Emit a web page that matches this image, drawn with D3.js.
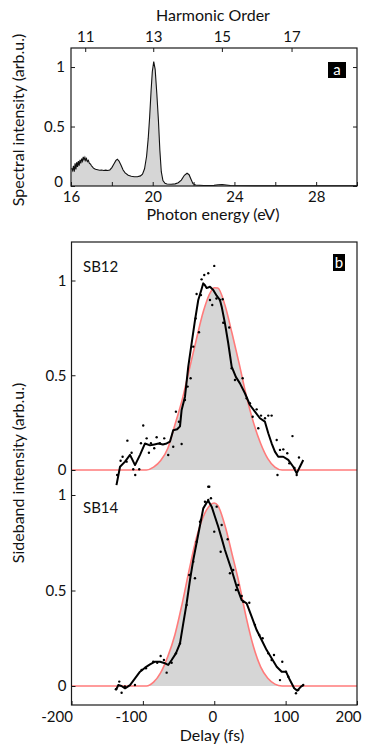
<!DOCTYPE html>
<html>
<head>
<meta charset="utf-8">
<script src="https://cdn.jsdelivr.net/npm/d3@7"></script>
<style>
  body { margin: 0; background: #fff; }
  svg { display: block; }
  text { font-family: Lato, "Open Sans", sans-serif; fill: #111; }
</style>
</head>
<body>
<svg id="fig" width="365" height="748"></svg>
<script>
// ---- Panel a: photon spectrum ----
const photonEnergy = [16.03,16.08,16.12,16.16,16.2,16.24,16.28,16.32,16.36,16.4,16.44,16.48,16.52,16.56,16.6,16.64,16.68,16.72,16.76,16.8,16.85,16.9,16.95,17.0,17.05,17.1,17.15,17.2,17.3,17.4,17.5,17.6,17.7,17.8,17.9,18.0,18.1,18.2,18.27,18.35,18.45,18.55,18.65,18.8,18.95,19.1,19.25,19.4,19.5,19.6,19.7,19.78,19.85,19.92,19.98,20.05,20.12,20.2,20.28,20.35,20.42,20.5,20.6,20.7,20.9,21.1,21.25,21.4,21.55,21.68,21.78,21.88,21.97,22.1,22.5,23.0,23.2,23.4,23.6,23.8,25.0,30.0];
const spectralIntensity = [0.15,0.13,0.17,0.12,0.19,0.14,0.2,0.16,0.21,0.17,0.22,0.19,0.23,0.21,0.245,0.22,0.24,0.215,0.23,0.205,0.215,0.19,0.185,0.17,0.16,0.15,0.145,0.14,0.136,0.132,0.135,0.13,0.133,0.13,0.135,0.155,0.185,0.215,0.225,0.21,0.175,0.135,0.11,0.09,0.082,0.078,0.078,0.085,0.1,0.145,0.25,0.4,0.58,0.8,0.96,1.045,0.98,0.78,0.55,0.3,0.12,0.045,0.022,0.017,0.015,0.018,0.028,0.05,0.09,0.107,0.095,0.055,0.02,0.008,0.004,0.005,0.01,0.012,0.008,0.004,0.002,0.002];
const energyTicks = [16, 18, 20, 22, 24, 26, 28, 30];
const energyLabels = [16, 20, 24, 28];
const harmonicOrders = [11, 13, 15, 17];
const harmonicEnergies = [16.72, 20.05, 23.41, 26.82];
const intensityTicks = [0, 0.5, 1];

// ---- Panel b: sideband traces ----
const delayTicks = [-200, -100, 0, 100, 200];

const sb12FitDelay = [-200,-95,-85,-75,-65,-55,-45,-35,-25,-15,-5,0,5,15,25,35,45,55,65,75,85,95,200];
const sb12FitValue = [0,0,0.015,0.05,0.115,0.24,0.37,0.53,0.69,0.84,0.94,0.962,0.96,0.87,0.72,0.56,0.39,0.25,0.14,0.06,0.015,0,0];
const sb12SmoothDelay = [-137,-132,-125,-118,-111,-104,-97,-90,-84,-78,-72,-66.7,-62,-57.5,-52,-48,-45.7,-41,-36.4,-31.7,-27,-22.4,-17.7,-15.4,-13,-10.7,-6,-1.4,3.4,8,10.4,15,19.6,24.4,30.4,36,43,50,57,64,71,75.7,80.4,85,89.7,96.7,103.7,110.7,115.5,120,124.7];
const sb12SmoothValue = [-0.08,0.017,0.044,0.08,0.026,0.08,0.14,0.13,0.135,0.14,0.135,0.14,0.15,0.21,0.215,0.23,0.317,0.387,0.545,0.668,0.79,0.897,0.955,0.985,0.975,0.96,0.967,0.95,0.92,0.897,0.862,0.774,0.669,0.545,0.49,0.457,0.405,0.343,0.308,0.273,0.255,0.194,0.141,0.097,0.07,0.07,0.053,0.017,-0.018,0.017,0.053];
const sb12PointDelay = [-136,-131.2,-128.4,-122.8,-121.7,-115.8,-113.5,-110.7,-105.1,-102.7,-99.5,-94.7,-91.5,-88.7,-84.1,-80.7,-76.1,-70.1,-64.5,-57.5,-45.7,-53.7,-49.5,-41.1,-37.3,-33.1,-29.4,-21.4,-26.1,-24.7,-18.6,-17.7,-14,-8.4,0,-6,-2.8,3.1,8,11.8,12.6,21,24.4,29,39.8,45.4,50,53.8,59.4,61.7,65.5,71.1,75.7,80.4,87.5,92.1,96.7,102.3,105.1,109.6,118.7,115.5,88.6,112.4,-8.4];
const sb12PointValue = [-0.026,0.049,0.07,0.044,0.155,0.091,0.004,-0.026,0.004,0.141,0.235,0.167,0.091,0.141,0.115,0.173,0.141,0.167,0.079,0.123,0.137,0.308,0.255,0.369,0.44,0.484,0.651,0.727,0.8,0.929,0.923,1.006,1.029,1.038,1.077,0.897,0.871,0.905,0.897,0.901,0.777,0.752,0.537,0.475,0.484,0.378,0.352,0.281,0.32,0.22,0.287,0.273,0.287,0.287,0.158,0.106,0.109,0.088,0.035,0.179,0.066,-0.026,-0.026,0.011,-0.088];

const sb14FitDelay = [-200,-95,-85,-75,-65,-55,-45,-35,-25,-15,-5,0,5,15,25,35,45,55,65,75,85,95,200];
const sb14FitValue = [0,0,0.02,0.07,0.155,0.27,0.43,0.61,0.775,0.89,0.95,0.958,0.945,0.84,0.69,0.535,0.355,0.205,0.1,0.04,0.01,0,0];
const sb14SmoothDelay = [-137.6,-134.5,-130,-125,-118,-111,-104,-97,-90,-83,-76,-69,-64.5,-59.7,-53.7,-48,-43.4,-38.7,-34,-29.4,-24.7,-20,-15.4,-10.7,-8.4,-3.6,1,5.6,10.4,15,19.6,24.4,31.4,38.4,45.4,52.4,59.4,66.4,73.4,80.4,87.5,94.5,100.5,106,112,116.3,121.5,124.7];
const sb14SmoothValue = [-0.021,0.005,0,-0.012,0.005,0.04,0.075,0.096,0.113,0.127,0.127,0.119,0.11,0.136,0.171,0.223,0.328,0.433,0.555,0.66,0.75,0.84,0.93,0.96,0.97,0.939,0.886,0.834,0.773,0.712,0.66,0.607,0.52,0.45,0.433,0.363,0.293,0.241,0.188,0.145,0.101,0.075,0.075,0.031,-0.012,-0.024,-0.003,0.005];
const sb14PointDelay = [-137.8,-133.1,-129.8,-125.2,-111.1,-101.8,-95.7,-85.5,-79.9,-75.1,-70.5,-66.7,-59.7,-53.7,-48,-38.7,-35,-29.4,-27,-24.7,-18.6,-13,-8.4,-7,-4.6,0,3.4,9,10.4,18.8,22,26.6,30.4,33.6,38.4,40.6,49.1,57,63.1,67.8,75.7,80.4,83.7,92.1,95.3,100.5,103.7,114.5,117.7,124.7,-20];
const sb14PointValue = [-0.017,0.023,-0.035,-0.003,0.005,0.084,0.093,0.127,0.122,0.157,0.136,0.07,0.122,0.171,0.223,0.424,0.581,0.651,0.564,0.755,0.869,0.965,0.974,1.043,0.983,0.808,0.939,0.703,0.843,0.768,0.59,0.607,0.503,0.529,0.471,0.441,0.436,0.319,0.267,0.25,0.171,0.136,0.162,0.031,0.127,0.075,0.049,-0.038,-0.021,0.005,0.86];

// ---- drawing ----
const svg = d3.select("#fig");
const fitColor = "#ff7b7b";
const fillColor = "#d6d6d6";
const frameColor = "#1a1a1a";
const zip = (xs, ys) => xs.map((x, i) => [x, ys[i]]);

function clean(g) {
  g.select(".domain").remove();
  g.selectAll(".tick line").attr("stroke", frameColor).attr("stroke-width", 1);
  g.selectAll("text").attr("font-size", 15).attr("fill", "#111").attr("font-family", "Lato, sans-serif");
}

// Panel a
const A = { left: 71, right: 357, top: 48, bottom: 186 };
const xE = d3.scaleLinear().domain([16, 30]).range([A.left, A.right]);
const yS = d3.scaleLinear().domain([0, 1.16]).range([A.bottom, A.top]);

const specData = zip(photonEnergy, spectralIntensity);
svg.append("path")
  .datum(specData)
  .attr("fill", fillColor)
  .attr("d", d3.area().x(d => xE(d[0])).y0(yS(0)).y1(d => yS(d[1])));
svg.append("path")
  .datum(specData)
  .attr("fill", "none").attr("stroke", "#111").attr("stroke-width", 1.1)
  .attr("d", d3.line().x(d => xE(d[0])).y(d => yS(d[1])));

svg.append("g").attr("transform", `translate(0,${A.bottom})`)
  .call(d3.axisBottom(xE).tickValues(energyTicks).tickSize(-4).tickPadding(5)
    .tickFormat(d => energyLabels.includes(d) ? d : ""))
  .call(clean);
svg.append("g").attr("transform", `translate(${A.left},0)`)
  .call(d3.axisLeft(yS).tickValues(intensityTicks).tickSize(-4).tickPadding(6)
    .tickFormat(d => String(d)))
  .call(clean)
  .call(g => g.selectAll(".tick text").filter(d => d === 0).attr("transform", "translate(-2,-4)"));
svg.append("g").attr("transform", `translate(${A.right},0)`)
  .call(d3.axisRight(yS).tickValues(intensityTicks).tickSize(-4).tickFormat(""))
  .call(clean);

// harmonic order axis along the top edge
const topAxis = svg.append("g").attr("transform", `translate(0,${A.top})`);
harmonicOrders.forEach((q, i) => {
  const x = xE(harmonicEnergies[i]);
  topAxis.append("line").attr("x1", x).attr("x2", x).attr("y1", 0).attr("y2", 4)
    .attr("stroke", frameColor);
  topAxis.append("text").attr("x", x).attr("y", -6).attr("text-anchor", "middle")
    .attr("font-size", 15).text(q);
});

svg.append("rect").attr("x", A.left).attr("y", A.top)
  .attr("width", A.right - A.left).attr("height", A.bottom - A.top)
  .attr("fill", "none").attr("stroke", frameColor).attr("stroke-width", 1.2);

svg.append("text").attr("x", 213).attr("y", 21).attr("text-anchor", "middle")
  .attr("font-size", 16).text("Harmonic Order");
svg.append("text").attr("x", 213).attr("y", 220).attr("text-anchor", "middle")
  .attr("font-size", 16).text("Photon energy (eV)");
svg.append("text").attr("transform", "translate(24,120) rotate(-90)")
  .attr("text-anchor", "middle").attr("font-size", 16).text("Spectral intensity (arb.u.)");

svg.append("rect").attr("x", 328).attr("y", 62).attr("width", 18).attr("height", 16).attr("fill", "#000");
svg.append("text").attr("x", 337).attr("y", 75).attr("text-anchor", "middle")
  .attr("font-size", 15).style("fill", "#fff").text("a");

// Panel b
const B = { left: 71.5, right: 357, top: 242, bottom: 705 };
const xD = d3.scaleLinear().domain([-200, 200]).range([B.left, B.right]);
const yA = d3.scaleLinear().domain([0, 1]).range([470, 280.5]);
const yB = d3.scaleLinear().domain([0, 1]).range([686, 495]);

function sideband(y, fitD, fitV, smD, smV, ptD, ptV) {
  const fit = zip(fitD, fitV);
  svg.append("path").datum(fit).attr("fill", fillColor)
    .attr("d", d3.area().curve(d3.curveMonotoneX).x(d => xD(d[0])).y0(y(0)).y1(d => y(d[1])));
  svg.append("path").datum(fit).attr("fill", "none").attr("stroke", fitColor).attr("stroke-width", 1.6)
    .attr("d", d3.line().curve(d3.curveMonotoneX).x(d => xD(d[0])).y(d => y(d[1])));
  svg.append("g").selectAll("circle").data(zip(ptD, ptV)).join("circle")
    .attr("cx", d => xD(d[0])).attr("cy", d => y(d[1])).attr("r", 1.2).attr("fill", "#000");
  svg.append("path").datum(zip(smD, smV)).attr("fill", "none").attr("stroke", "#000")
    .attr("stroke-width", 2).attr("stroke-linejoin", "round")
    .attr("d", d3.line().x(d => xD(d[0])).y(d => y(d[1])));
  svg.append("g").attr("transform", `translate(${B.left},0)`)
    .call(d3.axisLeft(y).tickValues(intensityTicks).tickSize(-4).tickPadding(5)
      .tickFormat(d => String(d)))
    .call(clean);
}
sideband(yA, sb12FitDelay, sb12FitValue, sb12SmoothDelay, sb12SmoothValue, sb12PointDelay, sb12PointValue);
sideband(yB, sb14FitDelay, sb14FitValue, sb14SmoothDelay, sb14SmoothValue, sb14PointDelay, sb14PointValue);

// delay labels sit slightly left of their ticks, the outer one kept inside the page
const delayLabelShift = { "-200": -15, "-100": -12, "0": -2, "100": 0, "200": -9 };
svg.append("g").attr("transform", `translate(0,${B.bottom})`)
  .call(d3.axisBottom(xD).tickValues(delayTicks).tickSize(-4).tickPadding(6)
    .tickFormat(d => d < 0 ? "-" + Math.abs(d) : String(d)))
  .call(clean)
  .call(g => g.selectAll(".tick text").attr("dx", d => delayLabelShift[String(d)]));

svg.append("rect").attr("x", B.left).attr("y", B.top)
  .attr("width", B.right - B.left).attr("height", B.bottom - B.top)
  .attr("fill", "none").attr("stroke", frameColor).attr("stroke-width", 1.2);

svg.append("text").attr("x", 83).attr("y", 272).attr("font-size", 15).text("SB12");
svg.append("text").attr("x", 83).attr("y", 513).attr("font-size", 15).text("SB14");

svg.append("rect").attr("x", 333).attr("y", 254).attr("width", 12).attr("height", 17).attr("fill", "#000");
svg.append("text").attr("x", 339).attr("y", 268).attr("text-anchor", "middle")
  .attr("font-size", 15).style("fill", "#fff").text("b");

svg.append("text").attr("x", 212).attr("y", 741).attr("text-anchor", "middle")
  .attr("font-size", 16).text("Delay (fs)");
svg.append("text").attr("transform", "translate(24,473) rotate(-90)")
  .attr("text-anchor", "middle").attr("font-size", 16).text("Sideband intensity (arb.u.)");
</script>
</body>
</html>
